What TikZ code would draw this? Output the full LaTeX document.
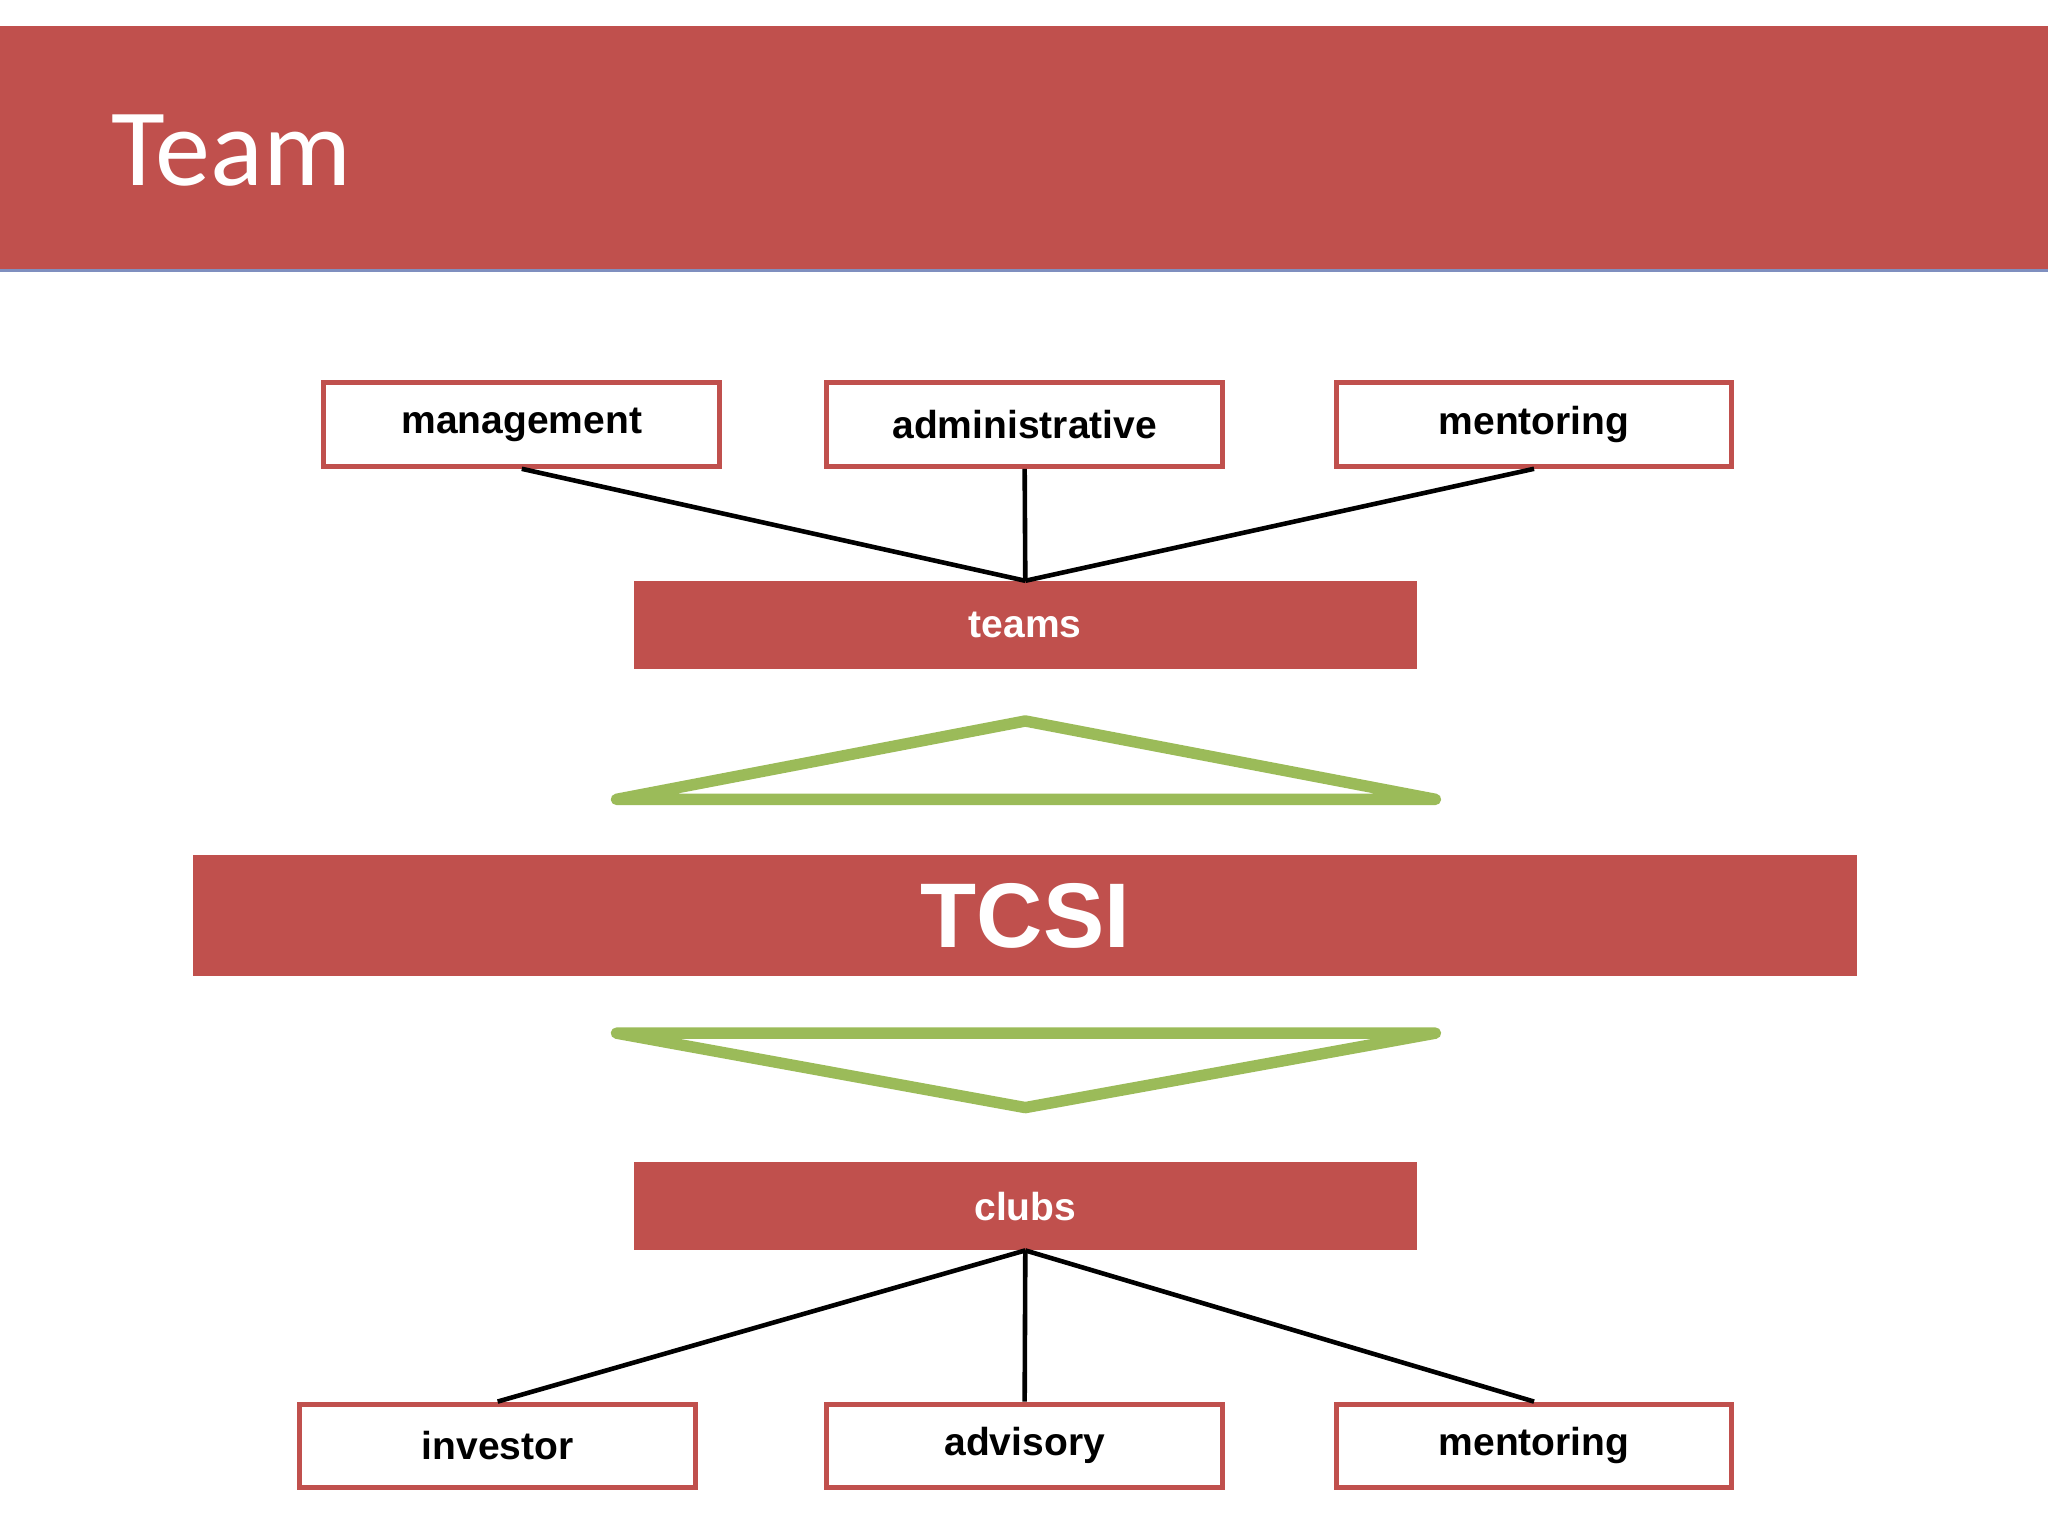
\documentclass[tikz,border=0pt]{standalone}
\usepackage{fontspec}
\setmainfont{Liberation Sans}
\newfontfamily\titlefont{Carlito}
\definecolor{boxred}{HTML}{C0504D}
\definecolor{arrowgreen}{HTML}{9BBB59}
\definecolor{bandline}{HTML}{7F8FBF}
\tikzset{
  outlined/.style={draw=boxred, line width=2.2pt, fill=white, minimum width=6.06cm, minimum height=1.28cm, font=\fontsize{17}{20}\selectfont\bfseries, inner sep=0pt},
  filled/.style={fill=boxred, text=white, minimum width=12cm, minimum height=1.34cm, font=\fontsize{17}{20}\selectfont\bfseries, inner sep=0pt},
  link/.style={line width=2pt},
  wedge/.style={draw=arrowgreen, line width=5pt, line join=round, line cap=round}
}
\begin{document}
\begin{tikzpicture}[x=0.02cm, y=-0.02cm]
            \useasboundingbox (0,0) rectangle (1568,1176);
            % header band
            \fill[boxred] (0,20) rectangle (1568,207);
            \draw[bandline, line width=1.2pt] (0,207) -- (1568,207);
            \node[anchor=base west, text=white, font=\titlefont\fontsize{48}{56}\selectfont, inner sep=0pt] (title) at (85,142) {Team};
            % top boxes
            \node[outlined] (management) at (399.5,325) {management};
            \node[outlined] (administrative) at (784.5,325) {administrative};
            \node[outlined] (mentoringtop) at (1174.5,325) {mentoring};
            % teams
            \node[filled] (teams) at (785,478.5) {teams};
            \draw[link] (management.south) -- (teams.north);
            \draw[link] (administrative.south) -- (teams.north);
            \draw[link] (mentoringtop.south) -- (teams.north);
            % upward wedge
            \draw[wedge] (785,552) -- (1099,612) -- (472,612) -- cycle;
            % TCSI
            \node[filled, minimum width=25.48cm, minimum height=1.86cm, font=\fontsize{40}{46}\selectfont\bfseries] (tcsi) at (785,701) {TCSI};
            % downward wedge
            \draw[wedge] (472,791) -- (1099,791) -- (785,848) -- cycle;
            % clubs
            \node[filled] (clubs) at (785,923.5) {clubs};
            % bottom boxes
            \node[outlined] (investor) at (381,1107) {investor};
            \node[outlined] (advisory) at (784.5,1107) {advisory};
            \node[outlined] (mentoringbot) at (1174.5,1107) {mentoring};
            \draw[link] (clubs.south) -- (investor.north);
            \draw[link] (clubs.south) -- (advisory.north);
            \draw[link] (clubs.south) -- (mentoringbot.north);
\end{tikzpicture}
\end{document}
